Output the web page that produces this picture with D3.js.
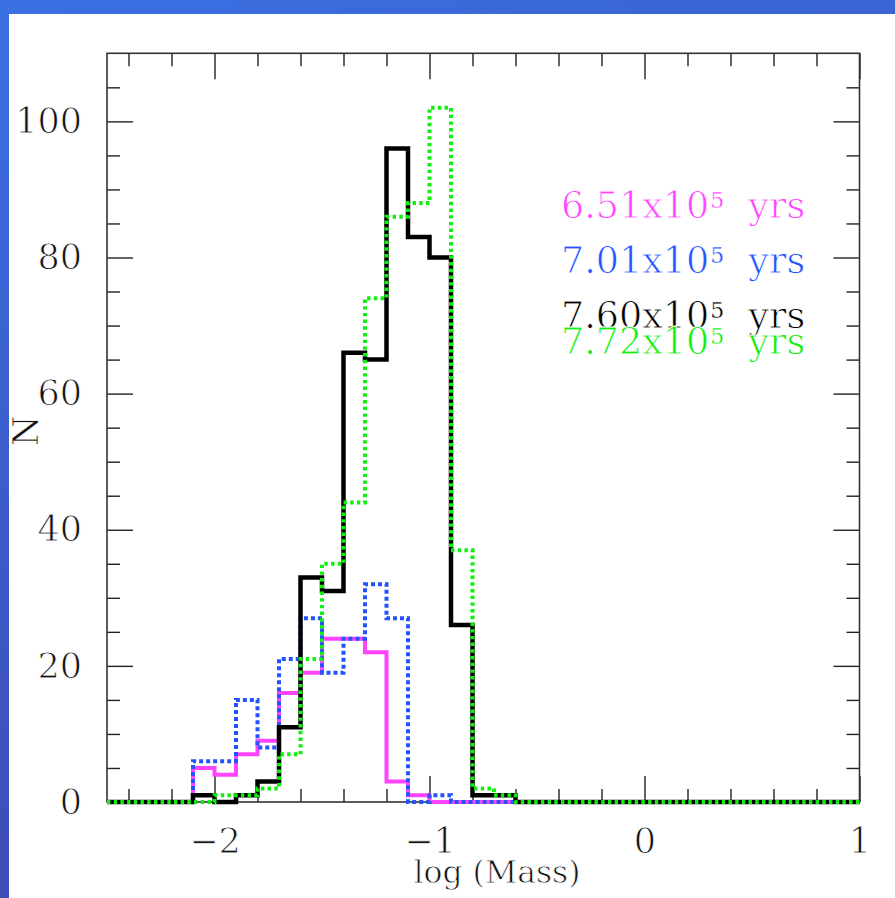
<!DOCTYPE html>
<html>
<head>
<meta charset="utf-8">
<script src="https://cdn.jsdelivr.net/npm/d3@7"></script>
<style>
  html, body { margin: 0; padding: 0; background: #ffffff; }
  svg { display: block; }
  text { font-family: "DejaVu Serif", serif; }
</style>
</head>
<body>
<script>
// ---------------- data ----------------
const binEdges = [-2.5,-2.4,-2.3,-2.2,-2.1,-2.0,-1.9,-1.8,-1.7,-1.6,-1.5,-1.4,-1.3,-1.2,-1.1,-1.0,
                  -0.9,-0.8,-0.7,-0.6,-0.5,-0.4,-0.3,-0.2,-0.1,0.0,0.1,0.2,0.3,0.4,0.5,0.6,0.7,0.8,0.9,1.0];
const seriesNames = ["6.51", "7.01", "7.60", "7.72"];
const counts651 = [0,0,0,0,5,4,7,9,16,19,24,24,22,3,1,0,0,0,0,0,0,0,0,0,0,0,0,0,0,0,0,0,0,0,0];
const counts701 = [0,0,0,0,6,6,15,8,21,27,19,24,32,27,0,1,0,0,0,0,0,0,0,0,0,0,0,0,0,0,0,0,0,0,0];
const counts760 = [0,0,0,0,1,0,1,3,11,33,31,66,65,96,83,80,26,1,1,0,0,0,0,0,0,0,0,0,0,0,0,0,0,0,0];
const counts772 = [0,0,0,0,0,1,1,2,7,21,35,44,74,86,88,102,37,2,1,0,0,0,0,0,0,0,0,0,0,0,0,0,0,0,0];
const xMajorTicks = [-2, -1, 0, 1];
const xMinorTicks = [-2.4,-2.2,-1.8,-1.6,-1.4,-1.2,-0.8,-0.6,-0.4,-0.2,0.2,0.4,0.6,0.8];
const yMajorTicks = [0, 20, 40, 60, 80, 100];
const yMinorTicks = [5,10,15,25,30,35,45,50,55,65,70,75,85,90,95,105];
const xLabel = "log (Mass)";
const yLabel = "N";
const legendSuffix = "yrs";

// ---------------- layout ----------------
const W = 895, H = 898;
const pL = 107, pR = 859.5, pT = 53.3, pB = 802;
const styles = [
  { color: "#ff44ff", width: 4, dash: null },
  { color: "#2352ff", width: 4, dash: "4,3" },
  { color: "#000000", width: 4.5, dash: null },
  { color: "#11ee11", width: 4, dash: "3.4,3.3" }
];
const allCounts = [counts651, counts701, counts760, counts772];

const svg = d3.select("body").append("svg").attr("width", W).attr("height", H);
const defs = svg.append("defs");
const gTop = defs.append("linearGradient").attr("id", "gtop").attr("x1", 0).attr("x2", 1).attr("y1", 0).attr("y2", 0);
gTop.append("stop").attr("offset", 0).attr("stop-color", "#3a70e2");
gTop.append("stop").attr("offset", 1).attr("stop-color", "#3a63d4");
const gLeft = defs.append("linearGradient").attr("id", "gleft").attr("x1", 0).attr("x2", 0).attr("y1", 0).attr("y2", 1);
gLeft.append("stop").attr("offset", 0).attr("stop-color", "#3a70e2");
gLeft.append("stop").attr("offset", 1).attr("stop-color", "#3e4cb6");

svg.append("rect").attr("x", 0).attr("y", 0).attr("width", W).attr("height", H).attr("fill", "#fff");
svg.append("rect").attr("x", 0).attr("y", 0).attr("width", W).attr("height", 14).attr("fill", "url(#gtop)");
svg.append("rect").attr("x", 0).attr("y", 0).attr("width", 9).attr("height", H).attr("fill", "url(#gleft)");

const x = d3.scaleLinear().domain([-2.5, 1]).range([pL, pR]);
const y = d3.scaleLinear().domain([0, 110]).range([pB, pT]);

const tickColor = "#222";
function styleAxis(g) {
  g.select(".domain").remove();
  g.selectAll(".tick line").attr("stroke", tickColor).attr("stroke-width", 1.4);
  g.selectAll(".tick text").attr("fill", "#111").attr("font-size", 35)
    .attr("font-family", "DejaVu Serif, serif")
    .attr("stroke", "#fff").attr("stroke-width", 0.9);
}

// bottom axis
svg.append("g").attr("transform", `translate(0,${pB})`)
  .call(d3.axisBottom(x).tickValues(xMajorTicks).tickSize(-26).tickPadding(26).tickFormat(d3.format("d")))
  .call(styleAxis);
svg.append("g").attr("transform", `translate(0,${pB})`)
  .call(d3.axisBottom(x).tickValues(xMinorTicks).tickSize(-13).tickFormat(""))
  .call(styleAxis);
// top axis
svg.append("g").attr("transform", `translate(0,${pT})`)
  .call(d3.axisTop(x).tickValues(xMajorTicks).tickSize(-26).tickFormat(""))
  .call(styleAxis);
svg.append("g").attr("transform", `translate(0,${pT})`)
  .call(d3.axisTop(x).tickValues(xMinorTicks).tickSize(-13).tickFormat(""))
  .call(styleAxis);
// left axis
svg.append("g").attr("transform", `translate(${pL},0)`)
  .call(d3.axisLeft(y).tickValues(yMajorTicks).tickSize(-26).tickPadding(25).tickFormat(d3.format("d")))
  .call(styleAxis);
svg.append("g").attr("transform", `translate(${pL},0)`)
  .call(d3.axisLeft(y).tickValues(yMinorTicks).tickSize(-13).tickFormat(""))
  .call(styleAxis);
// right axis
svg.append("g").attr("transform", `translate(${pR},0)`)
  .call(d3.axisRight(y).tickValues(yMajorTicks).tickSize(-26).tickFormat(""))
  .call(styleAxis);
svg.append("g").attr("transform", `translate(${pR},0)`)
  .call(d3.axisRight(y).tickValues(yMinorTicks).tickSize(-13).tickFormat(""))
  .call(styleAxis);

// frame
svg.append("rect").attr("x", pL).attr("y", pT).attr("width", pR - pL).attr("height", pB - pT)
  .attr("fill", "none").attr("stroke", "#333").attr("stroke-width", 1.6);

// histograms
const line = d3.line().x(d => x(d[0])).y(d => y(d[1])).curve(d3.curveStepAfter);
allCounts.forEach((counts, k) => {
  const pts = counts.map((c, i) => [binEdges[i], c]);
  pts.push([binEdges[binEdges.length - 1], counts[counts.length - 1]]);
  const s = styles[k];
  const p = svg.append("path").attr("d", line(pts)).attr("fill", "none")
    .attr("stroke", s.color).attr("stroke-width", s.width)
    .attr("stroke-linejoin", "miter").attr("stroke-linecap", "butt");
  if (s.dash) p.attr("stroke-dasharray", s.dash);
});

// legend
const legendBaselines = [218, 272.7, 328, 354];
seriesNames.forEach((name, k) => {
  const t = svg.append("text").attr("x", 561).attr("y", legendBaselines[k])
    .attr("fill", styles[k].color).attr("font-size", 36.5)
    .attr("stroke", "#fff").attr("stroke-width", 0.8);
  t.append("tspan").text(name + "x10");
  t.append("tspan").attr("dy", -10).attr("dx", 1).attr("font-size", 22).attr("stroke-width", 0.3).text("5");
  t.append("tspan").attr("dy", 10).attr("dx", 24).attr("stroke-width", 0.8).text(legendSuffix);
});

// axis labels
svg.append("text").attr("x", 497).attr("y", 883).attr("text-anchor", "middle")
  .attr("font-size", 31.5).attr("fill", "#111").attr("stroke", "#fff").attr("stroke-width", 0.8)
  .text(xLabel);
svg.append("text").attr("transform", "translate(38,431) rotate(-90)").attr("text-anchor", "middle")
  .attr("font-size", 35).attr("fill", "#111").attr("stroke", "#fff").attr("stroke-width", 0.8)
  .text(yLabel);
</script>
</body>
</html>
